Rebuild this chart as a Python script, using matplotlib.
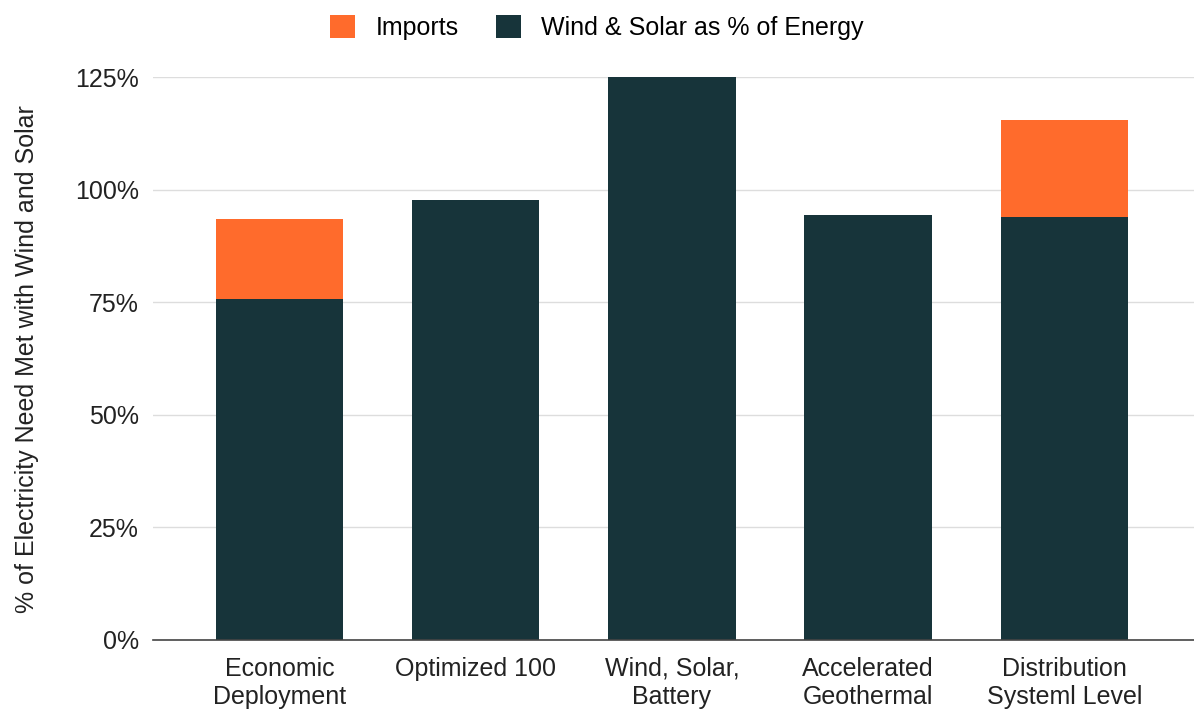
import matplotlib.pyplot as plt
import numpy as np

plt.rcParams['font.family'] = ['Liberation Sans', 'DejaVu Sans']

categories = ["Economic\nDeployment", "Optimized 100", "Wind, Solar,\nBattery",
              "Accelerated\nGeothermal", "Distribution\nSysteml Level"]
wind_solar = [75.8, 97.7, 125.0, 94.4, 93.9]
imports = [17.7, 0.0, 0.0, 0.0, 21.6]

dark = '#17343A'
orange = '#FF6B2C'

fig = plt.figure(figsize=(11.94, 7.15), dpi=100)
ax = fig.add_axes([0.128, 0.105, 0.872, 0.787])

x = np.arange(len(categories))
ax.bar(x, wind_solar, width=0.65, color=dark, label='Wind & Solar as % of Energy', zorder=2)
ax.bar(x, imports, width=0.65, bottom=wind_solar, color=orange, label='Imports', zorder=2)

ax.set_ylim(0, 125)
ax.set_xlim(-0.645, 4.66)
ax.set_yticks([0, 25, 50, 75, 100, 125])
ax.set_yticklabels([f"{v}%" for v in [0, 25, 50, 75, 100, 125]], fontsize=18, color='#222222')
ax.set_xticks(x)
ax.set_xticklabels(categories, fontsize=18, color='#222222', linespacing=1.25)
ax.tick_params(axis='y', length=0, pad=10)
ax.tick_params(axis='x', length=0, pad=12)
ax.grid(axis='y', color='#dddddd', linewidth=1, zorder=0)
for s in ['top', 'right', 'left']:
    ax.spines[s].set_visible(False)
ax.spines['bottom'].set_color('#444444')
ax.spines['bottom'].set_linewidth(1.2)
ax.spines['bottom'].set_zorder(3)

ax.set_ylabel('% of Electricity Need Met with Wind and Solar', fontsize=18, color='#222222', labelpad=26)

h, l = ax.get_legend_handles_labels()
fig.legend(h[::-1], l[::-1], loc='upper center', bbox_to_anchor=(0.5, 1.01), ncol=2,
           frameon=False, fontsize=18, handlelength=1.0, handleheight=1.0,
           columnspacing=1.5, handletextpad=0.8)

fig.savefig('out.png', dpi=100)
